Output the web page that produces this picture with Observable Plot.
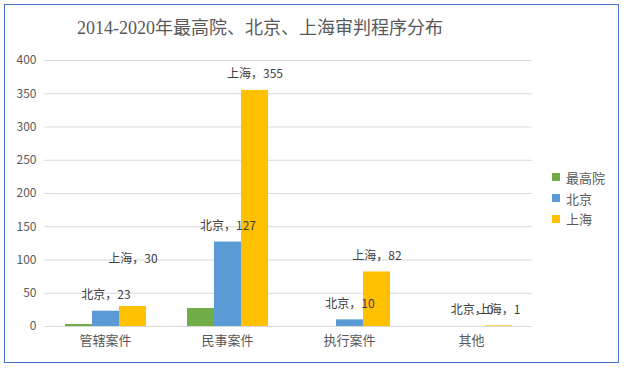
<!DOCTYPE html>
<html>
<head>
<meta charset="utf-8">
<script src="https://cdn.jsdelivr.net/npm/d3@7"></script>
<script src="https://cdn.jsdelivr.net/npm/@observablehq/plot@0.6"></script>
<style>
  body { margin: 0; background: #fff; }
  #wrap { position: relative; width: 624px; height: 369px; overflow: hidden; font-family: "Noto Sans CJK SC", "Liberation Sans", sans-serif; }
  #border { position: absolute; left: 4px; top: 4px; width: 613px; height: 357px; border: 1px solid #4472C4; }
  #title { position: absolute; left: 0; width: 520px; top: 14px; text-align: center; font-size: 18px; color: #595959; font-family: "Liberation Serif", "Noto Sans CJK SC", serif; white-space: nowrap; line-height: 28px; }
  #chart { position: absolute; left: 0; top: 0; }
  #legend { position: absolute; left: 552px; top: 167px; font-size: 13px; color: #595959; }
  .item { display: flex; align-items: center; height: 20.7px; }
  .sw { width: 8px; height: 8px; margin-right: 6px; }
</style>
</head>
<body>
<div id="wrap">
  <div id="chart"></div>
  <div id="title">2014-2020年最高院、北京、上海审判程序分布</div>
  <div id="legend"></div>
  <div id="border"></div>
</div>
<script>
const categories = ["管辖案件", "民事案件", "执行案件", "其他"];
const series = ["最高院", "北京", "上海"];
const colors = ["#70AD47", "#5B9BD5", "#FFC000"];
const valuesZuigaoyuan = [3, 27, 0, 0];
const valuesBeijing = [23, 127, 10, 0];
const valuesShanghai = [30, 355, 82, 1];
const yTicks = [0, 50, 100, 150, 200, 250, 300, 350, 400];
const labeledSeries = ["北京", "上海"];

const seriesValues = [valuesZuigaoyuan, valuesBeijing, valuesShanghai];
const data = [];
categories.forEach((c, i) => {
  series.forEach((s, j) => {
    data.push({category: c, series: s, value: seriesValues[j][i]});
  });
});
const labels = data.filter(d => labeledSeries.includes(d.series));
const isRaised = d => d.category === "管辖案件" && d.series === "上海";

const chart = Plot.plot({
  width: 624,
  height: 369,
  marginLeft: 43,
  marginRight: 92,
  marginTop: 60,
  marginBottom: 43,
  style: {fontFamily: "'Noto Sans CJK SC', 'Liberation Sans', sans-serif", color: "#595959", background: "transparent"},
  fx: {domain: categories, padding: 0, label: null},
  x: {domain: series, paddingInner: 0, paddingOuter: 0.72, axis: null},
  y: {domain: [0, 400], ticks: yTicks, label: null},
  color: {domain: series, range: colors},
  marks: [
    Plot.ruleY(yTicks, {stroke: "#D9D9D9", strokeWidth: 1}),
    Plot.axisY({ticks: yTicks, tickSize: 0, tickPadding: 8, fontSize: 12, fill: "#595959", label: null}),
    Plot.axisFx({anchor: "bottom", tickSize: 0, tickPadding: 9, fontSize: 13, fill: "#595959", label: null}),
    Plot.barY(data, {fx: "category", x: "series", y: "value", fill: "series"}),
    Plot.text(labels.filter(d => !isRaised(d)), {fx: "category", x: "series", y: "value", text: d => d.series + "，" + d.value, dy: -16, fontSize: 12, fill: "#404040"}),
    Plot.text(labels.filter(isRaised), {fx: "category", x: "series", y: "value", text: d => d.series + "，" + d.value, dy: -47, fontSize: 12, fill: "#404040"})
  ]
});
document.getElementById("chart").appendChild(chart);

const legend = document.getElementById("legend");
series.forEach((s, i) => {
  const item = document.createElement("div");
  item.className = "item";
  const sw = document.createElement("div");
  sw.className = "sw";
  sw.style.background = colors[i];
  const t = document.createElement("span");
  t.textContent = s;
  item.appendChild(sw);
  item.appendChild(t);
  legend.appendChild(item);
});
</script>
</body>
</html>
